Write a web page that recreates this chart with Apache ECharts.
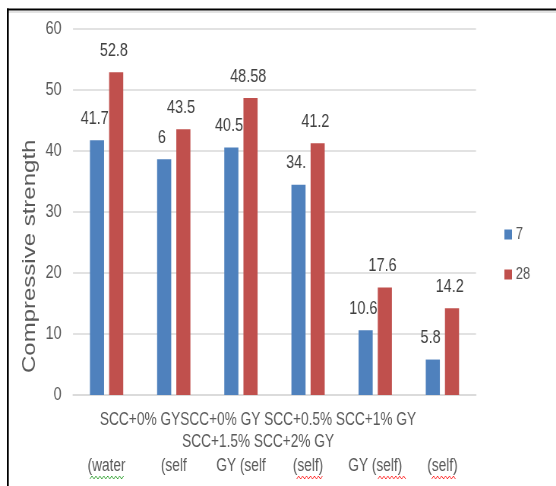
<!DOCTYPE html>
<html>
<head>
<meta charset="utf-8">
<script src="https://cdn.jsdelivr.net/npm/echarts@6/dist/echarts.min.js"></script>
<style>
  html, body { margin: 0; padding: 0; background: #fff; overflow: hidden; }
  #stage { width: 556px; height: 486px; overflow: hidden; position: relative; }
  /* the chart is laid out wide and squeezed horizontally into the 556px frame */
  #chart { width: 732px; height: 486px; transform: scaleX(0.7596); transform-origin: 0 0; }
</style>
</head>
<body>
<div id="stage"><div id="chart"></div></div>
<script>
// Category labels (bottom wrapped line shown under each group)
const categoryLabels = ['(water', '(self', 'GY (self', '(self)', 'GY (self)', '(self)'];
// Upper wrapped rows of the category labels
const categoryRows = ['SCC+0% GYSCC+0% GY SCC+0.5% SCC+1% GY', 'SCC+1.5% SCC+2% GY'];
// Curing age (days) series names
const seriesNames = ['7', '28'];
// Compressive strength values
const days7 = [41.7, 38.56, 40.5, 34.4, 10.6, 5.8];
const days28 = [52.8, 43.5, 48.58, 41.2, 17.6, 14.2];
// Data label texts as printed above the bars
const labels7 = ['41.7', '6', '40.5', '34.', '10.6', '5.8'];
const labels28 = ['52.8', '43.5', '48.58', '41.2', '17.6', '14.2'];
// Value axis range
const yMin = 0, yMax = 60, yStep = 10;
const yTitle = 'Compressive strength';

const FONT = '"Liberation Sans", Arial, sans-serif';
const BLUE = '#4F81BD', RED = '#C0504D';

// Wavy spell-check style underline
function squiggle(x0, x1, y, color) {
  const pts = [];
  const half = 2.6;
  for (let i = 0, x = x0; x <= x1; i++, x += half) {
    pts.push([x, i % 2 ? y - 1.5 : y + 1.5]);
  }
  return { type: 'polyline', silent: true, shape: { points: pts },
           style: { stroke: color, lineWidth: 1, fill: null } };
}

const chart = echarts.init(document.getElementById('chart'), null, { renderer: 'canvas' });

chart.setOption({
  animation: false,
  backgroundColor: '#ffffff',
  textStyle: { fontFamily: FONT },
  grid: { left: 96.1, right: 105.4, top: 28.3, bottom: 91 },
  legend: {
    orient: 'vertical',
    left: 659,
    top: 219.5,
    icon: 'rect',
    itemWidth: 10,
    itemHeight: 10,
    itemGap: 20,
    textStyle: { fontSize: 17, color: '#595959', fontFamily: FONT, lineHeight: 20 },
    data: seriesNames
  },
  xAxis: {
    type: 'category',
    data: categoryLabels,
    axisLine: { show: true, lineStyle: { color: '#D9D9D9', width: 1.5 } },
    axisTick: { show: false },
    axisLabel: { interval: 0, fontSize: 18, color: '#595959', fontFamily: FONT, margin: 62 }
  },
  yAxis: {
    type: 'value',
    min: yMin, max: yMax, interval: yStep,
    axisLine: { show: false },
    axisTick: { show: false },
    splitLine: { lineStyle: { color: '#D9D9D9', width: 1.5 } },
    axisLabel: { fontSize: 19, color: '#595959', fontFamily: FONT, margin: 15 }
  },
  series: [
    {
      name: seriesNames[0], type: 'bar', data: days7,
      barWidth: '21%', barGap: '36%',
      itemStyle: { color: BLUE },
      label: { show: true, position: 'top', distance: 12, offset: [-3, 0],
               fontSize: 19, color: '#404040', fontFamily: FONT,
               formatter: p => labels7[p.dataIndex] }
    },
    {
      name: seriesNames[1], type: 'bar', data: days28,
      barWidth: '21%', barGap: '36%',
      itemStyle: { color: RED },
      label: { show: true, position: 'top', distance: 12, offset: [-3, 0],
               fontSize: 19, color: '#404040', fontFamily: FONT,
               formatter: p => labels28[p.dataIndex] }
    }
  ],
  graphic: [
    // frame edges
    { type: 'rect', silent: true, shape: { x: 9, y: 8.5, width: 730, height: 2 }, style: { fill: '#000' } },
    { type: 'rect', silent: true, shape: { x: 9, y: 11.5, width: 730, height: 1 }, style: { fill: '#c8c8c8' } },
    { type: 'rect', silent: true, shape: { x: 9, y: 8.5, width: 2.6, height: 480 }, style: { fill: '#000' } },
    // value axis title
    { type: 'text', silent: true, x: 39.5, y: 373, rotation: Math.PI / 2,
      style: { text: yTitle, fontSize: 24, fill: '#595959', fontFamily: FONT,
               align: 'left', verticalAlign: 'middle' } },
    // upper rows of the category labels
    { type: 'text', silent: true, x: 339.7, y: 420,
      style: { text: categoryRows[0], fontSize: 18, fill: '#595959', fontFamily: FONT,
               align: 'center', verticalAlign: 'middle' } },
    { type: 'text', silent: true, x: 339.7, y: 442,
      style: { text: categoryRows[1], fontSize: 18, fill: '#595959', fontFamily: FONT,
               align: 'center', verticalAlign: 'middle' } },
    // proofing underlines beneath the bottom label row
    squiggle(118.5, 164.6, 477.5, '#2ca02c'),
    squiggle(390.6, 425.6, 477.5, '#ff2020'),
    squiggle(497.6, 535.4, 477.5, '#ff2020'),
    squiggle(568.3, 601.2, 477.5, '#ff2020')
  ]
});
</script>
</body>
</html>
